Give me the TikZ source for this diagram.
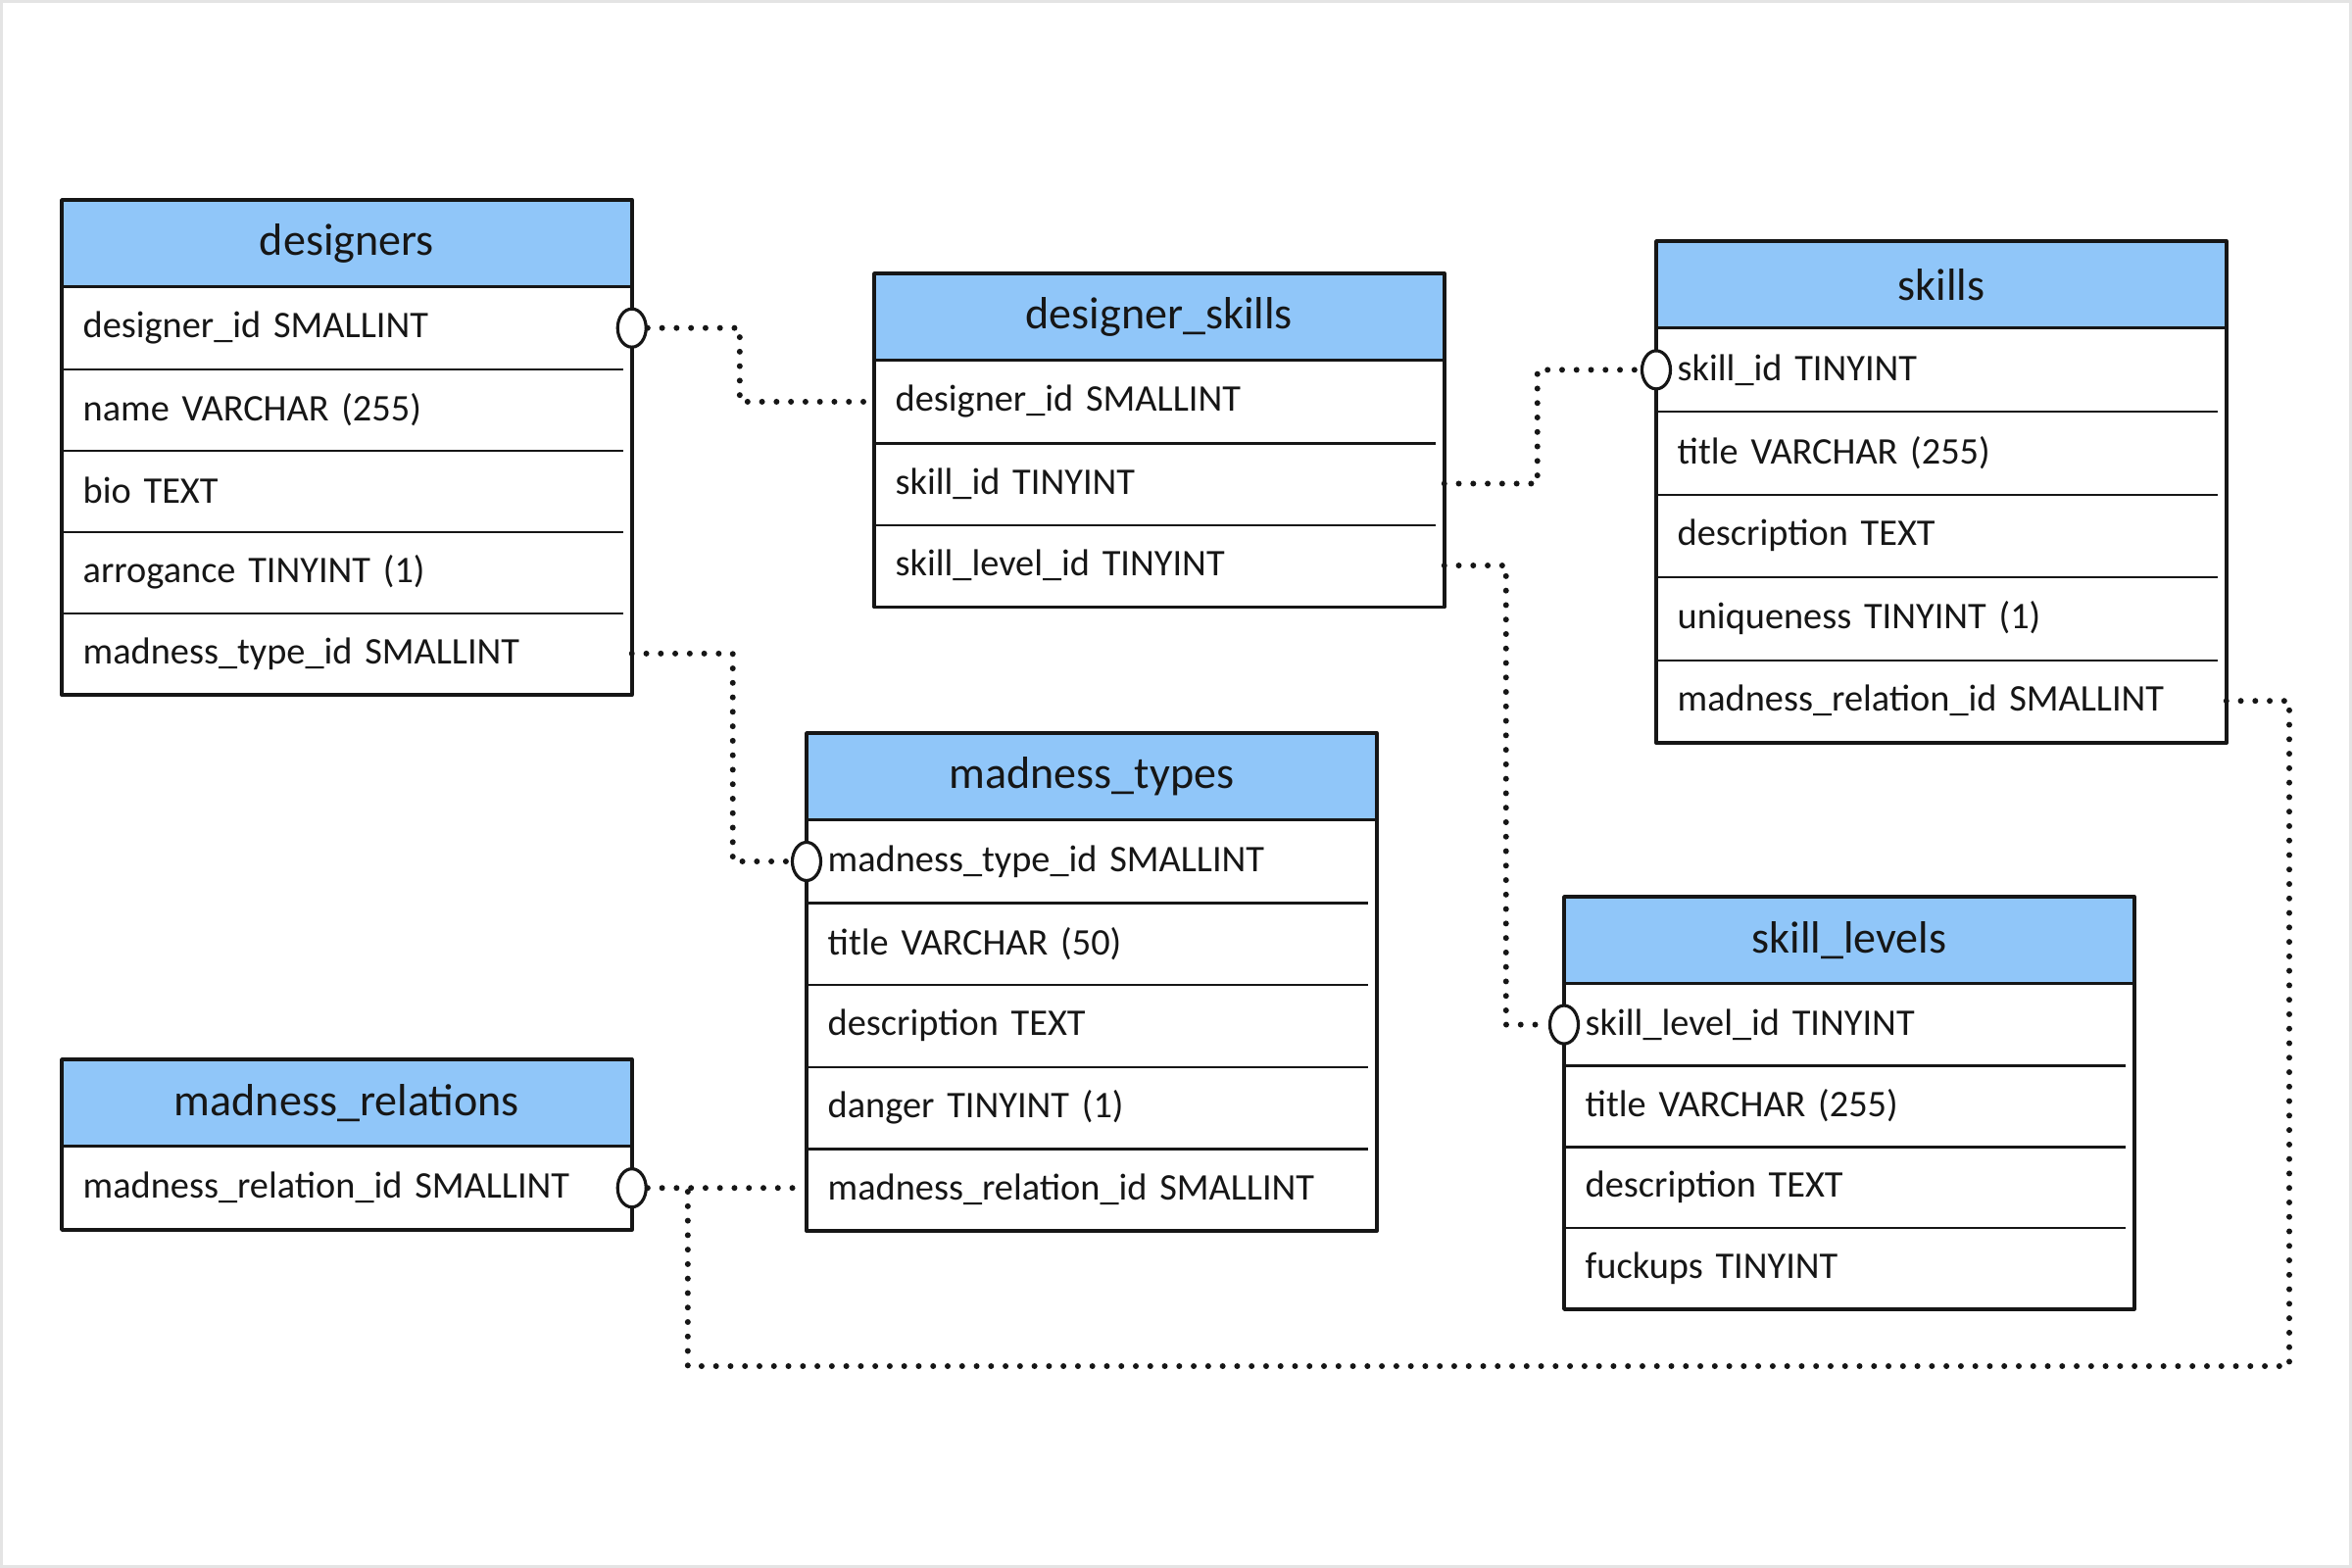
\documentclass[tikz,border=0pt]{standalone}
\usepackage{fontspec}
\setmainfont{Carlito}
\usetikzlibrary{shapes.geometric,calc}
\definecolor{hdrblue}{RGB}{144,198,249}
\definecolor{ink}{RGB}{22,22,22}
\definecolor{framegray}{RGB}{228,228,228}
\tikzset{
  hdr/.style={rectangle, fill=hdrblue, minimum width=5.8cm, minimum height=0.87cm,
    inner sep=0pt, anchor=north west, text=ink, font=\fontsize{13.1}{15}\selectfont},
  rowbox/.style={rectangle, anchor=north west, inner ysep=0pt,
    inner xsep=0.21cm, text width=5.38cm, align=left, text=ink,
    font=\fontsize{10.9}{13}\selectfont},
  border/.style={draw=ink, line width=1.1pt, line join=round},
  sepline/.style={draw=ink, line width=0.65pt},
  crc/.style={ellipse, draw=ink, fill=white, line width=0.9pt, inner sep=0pt,
    minimum width=0.29cm, minimum height=0.39cm},
  dots/.style={draw=ink, line width=1.7pt, line cap=round, dash pattern=on 0pt off 4.2pt}
}
% #1 name, #2 position, #3 title, #4 rows, #5 row count, #6 row height
\newcommand{\erTable}[6]{%
  \node[hdr] (#1-h) at (#2) {#3};
  \foreach \r [count=\i] in {#4} {
    \node[rowbox, minimum height=#6] (#1-\i) at ([yshift={-(\i-1)*#6}]#1-h.south west) {\mbox{\r}};
    \ifnum\i<#5 \draw[sepline] (#1-\i.south west) -- ([xshift=-0.09cm]#1-\i.south east);\fi
  }
  \draw[border] (#1-h.north west) rectangle (#1-#5.south east);
  \draw[border] (#1-h.south west) -- (#1-h.south east);
}
\begin{document}
\begin{tikzpicture}[x=0.01cm, y=-0.01cm]
\useasboundingbox (0,0) rectangle (2400,1600);
\draw[framegray, line width=0.9pt] (1.5,1.5) rectangle (2398.5,1598.5);

\erTable{des}{63,204}{designers}{designer\_id SMALLINT, name VARCHAR (255), bio TEXT, arrogance TINYINT (1), madness\_type\_id SMALLINT}{5}{0.83cm}
\erTable{ds}{892,279}{designer\_skills}{designer\_id SMALLINT, skill\_id TINYINT, skill\_level\_id TINYINT}{3}{0.835cm}
\erTable{sk}{1690,246}{skills}{skill\_id TINYINT, title VARCHAR (255), description TEXT, uniqueness TINYINT (1), madness\_relation\_id SMALLINT}{5}{0.844cm}
\erTable{mt}{823,748}{madness\_types}{madness\_type\_id SMALLINT, title VARCHAR (50), description TEXT, danger TINYINT (1), madness\_relation\_id SMALLINT}{5}{0.836cm}
\erTable{mr}{63,1081}{madness\_relations}{madness\_relation\_id SMALLINT}{1}{0.84cm}
\erTable{sl}{1596,915}{skill\_levels}{skill\_level\_id TINYINT, title VARCHAR (255), description TEXT, fuckups TINYINT}{4}{0.827cm}

\node[crc] (c1) at (des-1.east) {};
\node[crc] (c2) at (sk-1.west) {};
\node[crc] (c3) at (sl-1.west) {};
\node[crc] (c4) at (mt-1.west) {};
\node[crc] (c5) at (mr-1.east) {};
\coordinate (j) at ($(c5.east)+(41,0)$);
\coordinate (corner) at (2336,1394);

\draw[dots] (c1.east) -- ++(94,0) |- (ds-1.west);
\draw[dots] (ds-2.east) -- ++(95,0) |- (c2.west);
\draw[dots] (ds-3.east) -- ++(63,0) |- (c3.west);
\draw[dots] (des-5.east) -- ++(103,0) |- (c4.west);
\draw[dots] (c5.east) -- (c5.east -| mt-5.west);
\draw[dots] (sk-5.east) -| (corner) -| (j);
\end{tikzpicture}
\end{document}
